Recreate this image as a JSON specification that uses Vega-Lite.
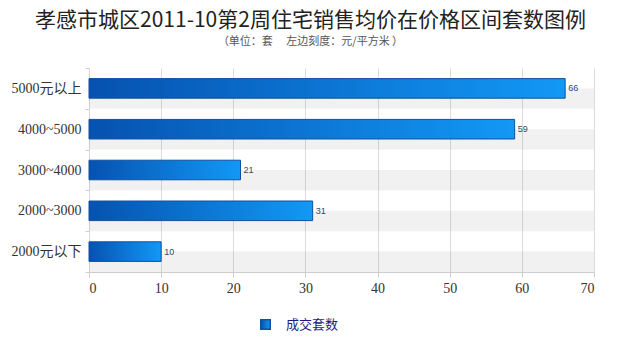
{
  "$schema": "https://vega.github.io/schema/vega-lite/v6.json",
  "width": 505,
  "height": 204,
  "autosize": "none",
  "padding": {"left": 89, "top": 68, "right": 26, "bottom": 84},
  "background": "white",
  "title": {
    "text": "孝感市城区2011-10第2周住宅销售均价在价格区间套数图例",
    "subtitle": "（单位：套　 左边刻度：元/平方米 ）",
    "font": "Noto Sans CJK SC",
    "fontSize": 21,
    "fontWeight": "normal",
    "color": "#222222",
    "subtitleFont": "Noto Sans CJK SC",
    "subtitleFontSize": 11,
    "subtitleColor": "#555555",
    "subtitlePadding": 5,
    "anchor": "middle",
    "dx": -31,
    "offset": 14
  },
  "config": {
    "view": {"stroke": null},
    "axis": {
      "labelFont": "Liberation Serif, Noto Sans CJK SC",
      "labelColor": "#333333",
      "labelFontSize": 14
    }
  },
  "data": {
    "values": [
      {"range": "5000元以上", "count": 66},
      {"range": "4000~5000", "count": 59},
      {"range": "3000~4000", "count": 21},
      {"range": "2000~3000", "count": 31},
      {"range": "2000元以下", "count": 10}
    ]
  },
  "encoding": {
    "y": {
      "field": "range",
      "type": "nominal",
      "sort": null,
      "scale": {"paddingInner": 0, "paddingOuter": 0},
      "axis": {
        "title": null,
        "tickBand": "extent",
        "grid": false,
        "tickSize": 4,
        "tickColor": "#cccccc",
        "domainColor": "#d8d8d8",
        "labelPadding": 4
      }
    }
  },
  "layer": [
    {
      "mark": {"type": "bar", "height": {"band": 0.5}, "yOffset": 10.2, "color": "#000000", "opacity": 0.055},
      "encoding": {
        "x": {
          "datum": 0,
          "type": "quantitative",
          "scale": {"domain": [0, 70]},
          "axis": {
            "title": null,
            "grid": true,
            "values": [0, 10, 20, 30, 40, 50, 60, 70],
            "gridColor": "#dcdcdc",
            "gridOpacity": 1,
            "tickColor": "#cccccc",
            "domainColor": "#cccccc",
            "tickSize": 5,
            "labelPadding": 4
          }
        },
        "x2": {"datum": 70}
      }
    },
    {
      "mark": {
        "type": "bar",
        "height": {"band": 0.48},
        "strokeWidth": 1,
        "fill": {
          "gradient": "linear",
          "x1": 0, "y1": 0, "x2": 1, "y2": 0,
          "stops": [
            {"offset": 0, "color": "#0652b0"},
            {"offset": 1, "color": "#1298f6"}
          ]
        }
      },
      "encoding": {
        "x": {"field": "count", "type": "quantitative"},
        "stroke": {
          "datum": "成交套数",
          "type": "nominal",
          "scale": {"range": ["#1050a0"]},
          "legend": {
            "title": null,
            "orient": "none",
            "legendX": 170,
            "legendY": 250,
            "symbolType": "square",
            "symbolSize": 90,
            "symbolFillColor": "#1476d6",
            "symbolStrokeColor": "#1050a0",
            "labelFont": "Noto Sans CJK SC",
            "labelFontSize": 13,
            "labelColor": "#1c1c80",
            "labelOffset": 14
          }
        }
      }
    },
    {
      "mark": {"type": "text", "align": "left", "dx": 3, "fontSize": 9, "font": "Liberation Sans", "color": "#2a4a70"},
      "encoding": {
        "x": {"field": "count", "type": "quantitative"},
        "text": {"field": "count"}
      }
    }
  ]
}
